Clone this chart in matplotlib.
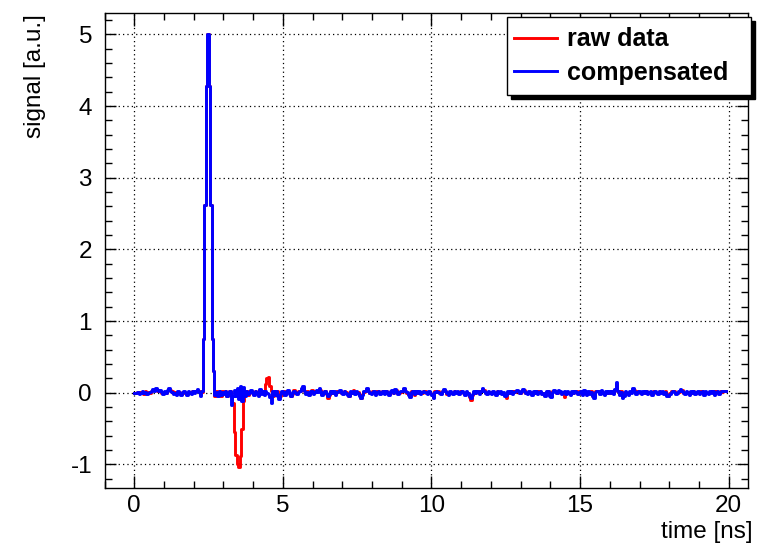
import numpy as np
import matplotlib
matplotlib.use("Agg")
import matplotlib.pyplot as plt
from matplotlib.patches import Rectangle
from matplotlib.ticker import MultipleLocator

plt.rcParams['font.family'] = ['Liberation Sans', 'DejaVu Sans']
plt.rcParams['axes.unicode_minus'] = False

dt = 0.05  # ns per sample, samples start at t = 0

# one line per ns (20 samples)
raw_data = [
    0.0, 0.0, 0.01, -0.01, 0.01, 0.01, -0.02, 0.02, -0.01, 0.01, 0.0, 0.02, 0.04, 0.04, 0.05, 0.03, 0.03, 0.03, 0.0, -0.01,
    0.01, 0.0, 0.03, 0.05, 0.04, 0.02, -0.01, 0.01, -0.02, 0.01, 0.01, -0.02, 0.0, 0.01, 0.0, -0.02, 0.01, 0.01, -0.01, 0.03,
    0.01, 0.02, 0.04, 0.02, -0.02, 0.01, 0.75, 2.62, 4.28, 5.0, 4.28, 2.62, 0.75, 0.3, -0.04, 0.02, -0.03, 0.03, -0.05, 0.02,
    -0.01, 0.03, -0.04, -0.02, 0.02, -0.05, -0.15, -0.55, -0.87, -1.0, -1.04, -0.88, -0.5, -0.12, -0.03, 0.02, -0.03, 0.02, 0.03, 0.0,
    -0.02, 0.02, 0.01, -0.03, 0.04, -0.01, 0.0, 0.02, 0.12, 0.21, 0.22, 0.1, 0.03, -0.04, 0.01, -0.03, 0.02, -0.02, -0.04, 0.01,
    0.02, -0.02, 0.03, 0.03, -0.01, -0.04, -0.02, 0.04, 0.01, -0.01, 0.02, 0.02, 0.05, 0.07, 0.02, -0.01, 0.02, -0.02, 0.01, 0.04,
    -0.01, 0.02, 0.03, 0.02, 0.05, 0.04, -0.02, 0.0, 0.03, -0.02, -0.07, -0.03, 0.02, 0.0, 0.01, -0.02, 0.02, 0.01, 0.03, 0.0,
    -0.01, 0.02, 0.01, -0.02, -0.04, 0.01, 0.0, 0.04, -0.01, 0.01, 0.01, -0.03, -0.07, -0.02, 0.01, 0.02, 0.05, 0.03, 0.0, -0.01,
    0.02, 0.01, -0.02, 0.02, 0.02, -0.01, -0.01, 0.03, -0.01, 0.02, 0.0, -0.02, 0.01, 0.03, 0.0, 0.04, 0.04, -0.01, 0.0, 0.01,
    0.02, 0.05, 0.03, 0.0, -0.02, -0.05, 0.02, 0.01, -0.03, 0.02, 0.0, 0.01, -0.01, 0.0, 0.02, 0.02, 0.0, -0.01, 0.01, 0.0,
    -0.02, -0.06, 0.02, 0.02, 0.02, 0.0, -0.01, 0.02, 0.04, 0.03, -0.02, -0.02, 0.01, 0.0, -0.01, 0.02, 0.01, 0.01, -0.01, 0.02,
    0.01, 0.0, -0.02, 0.01, 0.0, -0.06, -0.1, -0.03, 0.01, 0.0, 0.02, 0.02, -0.01, 0.02, 0.05, 0.04, 0.0, -0.01, 0.01, 0.01,
    -0.01, 0.01, 0.0, -0.02, 0.02, 0.01, 0.01, -0.01, 0.0, -0.03, -0.07, 0.01, 0.0, 0.02, -0.01, 0.02, 0.01, 0.03, 0.03, 0.0,
    0.01, 0.04, 0.04, 0.0, -0.01, 0.01, 0.01, -0.02, 0.01, 0.0, 0.02, -0.01, 0.02, 0.01, -0.01, -0.01, -0.03, 0.01, 0.02, -0.03,
    -0.05, 0.02, 0.03, 0.02, 0.0, 0.03, 0.01, -0.01, 0.0, -0.06, -0.01, 0.01, 0.0, -0.02, 0.01, 0.0, 0.02, 0.02, -0.01, 0.02,
    0.01, -0.02, 0.03, 0.01, -0.02, 0.01, -0.01, 0.02, -0.04, -0.05, 0.02, 0.02, 0.03, -0.01, 0.03, 0.0, -0.02, 0.01, 0.0, 0.01,
    0.0, 0.02, -0.01, 0.04, 0.12, 0.02, -0.02, 0.02, -0.06, -0.03, 0.01, 0.0, -0.02, 0.01, 0.01, 0.05, 0.04, -0.01, 0.02, 0.01,
    0.0, -0.01, 0.01, 0.0, 0.02, -0.01, 0.0, 0.01, -0.02, 0.02, 0.01, 0.0, -0.01, 0.02, 0.01, 0.01, -0.01, 0.02, -0.03, -0.04,
    -0.01, 0.02, 0.02, 0.02, -0.01, -0.01, 0.01, 0.04, 0.04, 0.0, -0.01, 0.01, 0.01, -0.02, 0.01, 0.0, 0.02, -0.01, 0.0, 0.01,
    -0.01, 0.02, 0.02, -0.02, 0.01, 0.0, -0.01, 0.01, 0.01, 0.02, -0.02, 0.02, 0.01, -0.01, 0.02, 0.01, 0.02, 0.02,
]

compensated = [
    0.0, -0.01, 0.01, -0.02, 0.0, 0.02, -0.01, 0.01, -0.02, 0.0, 0.01, 0.03, 0.05, 0.03, 0.06, 0.04, 0.02, 0.04, 0.01, -0.02,
    0.02, -0.01, 0.04, 0.06, 0.03, 0.01, -0.02, 0.0, -0.03, 0.02, 0.0, -0.03, 0.01, 0.02, -0.01, -0.03, 0.02, 0.0, -0.02, 0.02,
    -0.01, 0.03, 0.05, 0.01, -0.04, 0.02, 0.75, 2.62, 4.28, 5.0, 4.28, 2.62, 0.75, 0.3, -0.03, 0.01, -0.04, 0.02, -0.03, 0.01,
    -0.02, 0.03, -0.05, -0.01, 0.03, -0.17, -0.04, 0.04, -0.05, 0.06, -0.09, 0.1, -0.12, 0.08, -0.04, 0.03, -0.02, 0.01, 0.04, -0.01,
    -0.03, 0.03, -0.01, -0.04, 0.05, -0.02, 0.02, -0.03, 0.03, -0.01, -0.02, -0.06, -0.14, 0.03, -0.03, 0.02, -0.04, -0.09, -0.02, 0.02,
    0.01, -0.03, 0.02, 0.04, -0.02, -0.05, 0.01, 0.03, 0.0, -0.02, 0.01, 0.03, 0.06, 0.09, 0.03, -0.02, 0.01, -0.03, 0.02, 0.03,
    -0.02, 0.01, 0.04, 0.01, 0.06, 0.03, -0.03, -0.01, 0.02, -0.01, -0.04, -0.02, 0.03, -0.01, 0.02, -0.03, 0.01, 0.02, 0.04, -0.01,
    -0.02, 0.03, 0.0, -0.03, -0.05, 0.02, -0.01, 0.03, -0.02, 0.02, 0.0, -0.04, -0.08, -0.03, 0.02, 0.03, 0.06, 0.02, -0.01, -0.02,
    0.01, 0.02, -0.03, 0.01, 0.03, -0.02, 0.0, 0.02, -0.02, 0.03, -0.01, -0.03, 0.02, 0.04, -0.01, 0.05, 0.03, -0.02, 0.01, 0.02,
    0.03, 0.06, 0.02, 0.01, -0.03, -0.06, 0.01, 0.02, -0.02, 0.03, -0.01, 0.02, -0.02, 0.01, 0.03, 0.01, -0.01, -0.02, 0.02, -0.01,
    -0.03, -0.08, 0.01, 0.03, 0.01, -0.01, -0.02, 0.03, 0.05, 0.02, -0.01, -0.03, 0.02, -0.01, -0.02, 0.03, 0.0, 0.02, -0.02, 0.01,
    0.02, -0.01, -0.03, 0.02, -0.01, -0.04, -0.07, -0.02, 0.02, -0.01, 0.03, 0.01, -0.02, 0.03, 0.06, 0.03, -0.01, -0.02, 0.02, 0.0,
    -0.02, 0.02, -0.01, -0.03, 0.03, 0.0, 0.02, -0.02, 0.01, -0.05, -0.03, 0.02, -0.01, 0.03, -0.02, 0.01, 0.02, 0.04, 0.02, -0.01,
    0.02, 0.05, 0.03, -0.01, -0.02, 0.02, 0.0, -0.03, 0.02, -0.01, 0.03, -0.02, 0.01, 0.02, -0.02, 0.0, -0.04, 0.02, 0.03, -0.04,
    -0.06, 0.01, 0.04, 0.01, -0.01, 0.04, 0.02, -0.02, 0.01, 0.03, -0.02, 0.02, -0.01, -0.03, 0.02, -0.01, 0.03, 0.01, -0.02, 0.01,
    0.02, -0.03, 0.04, 0.0, -0.03, 0.02, -0.02, 0.01, -0.05, -0.07, 0.01, 0.03, 0.02, -0.02, 0.04, -0.01, -0.03, 0.02, -0.01, 0.02,
    -0.01, 0.03, -0.02, 0.05, 0.15, 0.03, -0.03, 0.01, -0.08, -0.04, 0.02, -0.01, -0.03, 0.02, 0.0, 0.06, 0.03, -0.02, 0.01, 0.02,
    -0.01, -0.02, 0.02, -0.01, 0.03, -0.02, 0.01, 0.02, -0.03, 0.01, 0.02, -0.01, -0.02, 0.03, 0.0, 0.02, -0.02, 0.01, -0.04, -0.05,
    -0.02, 0.01, 0.03, 0.01, -0.02, 0.0, 0.02, 0.05, 0.03, -0.01, -0.02, 0.02, 0.0, -0.03, 0.02, -0.01, 0.03, -0.02, 0.01, 0.02,
    -0.02, 0.01, 0.03, -0.03, 0.02, -0.01, -0.02, 0.02, 0.0, 0.03, -0.03, 0.01, 0.02, -0.02, 0.01, 0.02, 0.03, 0.03,
]

series = [raw_data, compensated]
labels = ["raw data", "compensated"]
colors = ["#ff0000", "#0000ff"]

W, H = 763, 544
fig = plt.figure(figsize=(W / 100, H / 100), dpi=100)
ax = fig.add_axes([104.5 / W, 1 - 488 / H, (748 - 104.5) / W, (488 - 13) / H])

for y, lab, c in zip(series, labels, colors):
    edges = np.arange(len(y) + 1) * dt
    ax.step(edges, np.append(y, y[-1]), where='post', color=c, lw=2.1, label=lab)

ax.set_xlim(-1.0, 20.65)
ax.set_ylim(-1.33, 5.30)
ax.xaxis.set_major_locator(MultipleLocator(5))
ax.xaxis.set_minor_locator(MultipleLocator(1))
ax.yaxis.set_major_locator(MultipleLocator(1))
ax.yaxis.set_minor_locator(MultipleLocator(0.2))
ax.tick_params(which='both', direction='in', top=True, right=True, width=1, labelsize=17.5)
ax.tick_params(axis='x', which='major', length=9, pad=5)
ax.tick_params(axis='x', which='minor', length=5)
ax.tick_params(axis='y', which='major', length=8, pad=9)
ax.tick_params(axis='y', which='minor', length=5)
ax.grid(True, which='major', color='black', ls=(0, (1, 2.5)), lw=0.9)
for s in ax.spines.values():
    s.set_linewidth(1)

fig.text(35 / W, 1 - 14 / H, 'signal [a.u.]', rotation=90, ha='center', va='top', fontsize=17.5)
fig.text(753 / W, 1 - 532 / H, 'time [ns]', ha='right', va='center', fontsize=17.5)

# legend box with ROOT-style shadow
fig.add_artist(Rectangle((511 / W, 1 - 99 / H), 244 / W, 78 / H, transform=fig.transFigure,
                         facecolor='black', edgecolor='black', zorder=3))
fig.add_artist(Rectangle((507 / W, 1 - 95 / H), 244 / W, 78 / H, transform=fig.transFigure,
                         facecolor='white', edgecolor='black', lw=1, zorder=4))
fig.legend(loc='center left', bbox_to_anchor=(514 / W, 1 - 56 / H), frameon=False,
           prop={'weight': 'bold', 'size': 18}, handlelength=1.7, handletextpad=0.42,
           labelspacing=0.38, borderpad=0, borderaxespad=0)

fig.savefig('out.png', dpi=100)
